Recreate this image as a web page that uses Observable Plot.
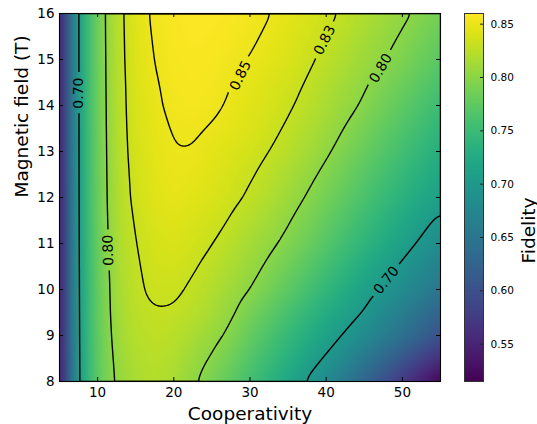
<!DOCTYPE html>
<html>
<head>
<meta charset="utf-8">
<script src="https://cdn.jsdelivr.net/npm/d3@7"></script>
<script src="https://cdn.jsdelivr.net/npm/@observablehq/plot@0.6"></script>
<style>
  html, body { margin: 0; padding: 0; background: white; }
  #wrap { position: relative; width: 537px; height: 424px; }
  #dbg { position: absolute; left: 2px; top: 2px; font: 9px monospace; color: red; }
</style>
</head>
<body>
<div id="wrap"></div>
<script>
// Cooperativity sample columns and magnetic-field sample rows
const coop = [5, 6, 7.5, 9, 10, 11.5, 13, 15, 17.5, 20, 22.5, 25, 27.5, 30, 32.5, 35, 37.5, 40, 42.5, 45, 47.5, 50, 52.5, 55];
const field = [8, 9, 9.5, 10, 11, 12, 13, 13.5, 14, 15, 16];
// Fidelity, one row per field value
const fidelity = [
  [0.528, 0.610, 0.700, 0.751, 0.772, 0.795, 0.806, 0.816, 0.821, 0.816, 0.803, 0.790, 0.774, 0.756, 0.738, 0.720, 0.697, 0.679, 0.652, 0.626, 0.5985, 0.571, 0.544, 0.517],
  [0.529, 0.611, 0.701, 0.753, 0.775, 0.798, 0.812, 0.822, 0.826, 0.824, 0.816, 0.807, 0.795, 0.778, 0.762, 0.746, 0.730, 0.7135, 0.697, 0.680, 0.661, 0.642, 0.6215, 0.601],
  [0.5295, 0.6115, 0.7015, 0.754, 0.776, 0.7995, 0.8145, 0.8245, 0.829, 0.8285, 0.823, 0.815, 0.8035, 0.789, 0.7745, 0.7595, 0.744, 0.728, 0.7135, 0.698, 0.680, 0.6615, 0.6435, 0.6255],
  [0.5297, 0.612, 0.702, 0.755, 0.777, 0.800, 0.816, 0.827, 0.8335, 0.833, 0.8275, 0.820, 0.8105, 0.800, 0.787, 0.773, 0.7585, 0.743, 0.7275, 0.7115, 0.6965, 0.681, 0.6655, 0.650],
  [0.530, 0.6125, 0.703, 0.757, 0.779, 0.8025, 0.8195, 0.830, 0.838, 0.8405, 0.8365, 0.8305, 0.8225, 0.8135, 0.8045, 0.7945, 0.782, 0.7685, 0.7545, 0.740, 0.7255, 0.7105, 0.6955, 0.6805],
  [0.5305, 0.613, 0.7035, 0.7585, 0.7805, 0.805, 0.822, 0.8345, 0.8435, 0.8465, 0.8445, 0.8405, 0.8345, 0.8275, 0.819, 0.8095, 0.7985, 0.787, 0.7745, 0.7615, 0.7485, 0.7355, 0.722, 0.709],
  [0.531, 0.6135, 0.704, 0.759, 0.7815, 0.806, 0.8235, 0.8375, 0.846, 0.8495, 0.8494, 0.8455, 0.8415, 0.837, 0.830, 0.8225, 0.8135, 0.803, 0.7915, 0.7795, 0.7675, 0.7555, 0.743, 0.731],
  [0.5312, 0.6137, 0.7042, 0.7593, 0.782, 0.8065, 0.824, 0.839, 0.8465, 0.851, 0.852, 0.849, 0.8455, 0.8415, 0.835, 0.8275, 0.819, 0.810, 0.799, 0.788, 0.7765, 0.765, 0.753, 0.741],
  [0.5315, 0.614, 0.7045, 0.7595, 0.7822, 0.807, 0.8245, 0.840, 0.8475, 0.8535, 0.855, 0.853, 0.848, 0.844, 0.8385, 0.8325, 0.8245, 0.8155, 0.8065, 0.797, 0.7855, 0.774, 0.7625, 0.751],
  [0.532, 0.614, 0.7048, 0.760, 0.7826, 0.808, 0.8255, 0.8425, 0.8505, 0.8555, 0.857, 0.856, 0.8525, 0.8495, 0.8455, 0.8405, 0.8335, 0.8255, 0.8175, 0.809, 0.801, 0.7925, 0.782, 0.771],
  [0.532, 0.614, 0.705, 0.760, 0.783, 0.809, 0.8265, 0.844, 0.8525, 0.857, 0.859, 0.8585, 0.857, 0.8545, 0.8505, 0.846, 0.841, 0.8345, 0.827, 0.819, 0.8115, 0.804, 0.796, 0.7875]
];
const levels = [0.70, 0.80, 0.83, 0.85];
const xTicks = [10, 20, 30, 40, 50];
const yTicks = [8, 9, 10, 11, 12, 13, 14, 15, 16];
const cbTicks = [0.55, 0.60, 0.65, 0.70, 0.75, 0.80, 0.85];
const colorDomain = [0.515, 0.86];
// contour label annotations
const labelText = ["0.70", "0.80", "0.85", "0.83", "0.80", "0.70"];
const labelCoop = [7.45, 11.4, 28.75, 39.8, 47.15, 47.9];
const labelField = [14.27, 10.85, 14.65, 15.42, 14.81, 10.2];
const labelAngle = [-90, -91.5, -64, -63.5, -59.5, -51];

const grid = field.flatMap((b, i) => coop.map((c, j) => ({c, b, f: fidelity[i][j]})));
const labels = labelText.map((t, i) => ({t, c: labelCoop[i], b: labelField[i], r: labelAngle[i]}));

const W = 537, H = 424;
const mL = 59, mR = 97, mT = 13, mB = 43;
const FW = W - mL - mR, FH = H - mT - mB;
const font = "DejaVu Sans";
const xDomain = [5, 55], yDomain = [8, 16];

const main = Plot.plot({
  width: W, height: H,
  marginLeft: mL, marginRight: mR, marginTop: mT, marginBottom: mB,
  style: {fontFamily: font, fontSize: "13.5px", background: "white", color: "black"},
  x: {domain: xDomain},
  y: {domain: yDomain},
  color: {type: "linear", scheme: "viridis", domain: colorDomain},
  marks: [
    Plot.raster(grid, {x: "c", y: "b", fill: "f", interpolate: "barycentric", blur: 4}),
    Plot.contour(grid, {x: "c", y: "b", value: "f", interpolate: "barycentric", thresholds: levels,
      pixelSize: 1, blur: 5, stroke: "black", fill: "none", strokeWidth: 1.4, clip: true}),
    Plot.text(labels, {x: "c", y: "b", text: "t", rotate: "r", fontSize: 14, fill: "black"}),
    Plot.frame({stroke: "black", strokeWidth: 1.1}),
    Plot.tickX(xTicks, {x: d => d, insetTop: FH - 4, stroke: "black"}),
    Plot.tickX(xTicks, {x: d => d, insetBottom: FH - 4, stroke: "black"}),
    Plot.tickY(yTicks, {y: d => d, insetRight: FW - 4, stroke: "black"}),
    Plot.tickY(yTicks, {y: d => d, insetLeft: FW - 4, stroke: "black"}),
    Plot.axisX({ticks: xTicks, tickSize: 0, tickPadding: 6, label: null, fontSize: 13.5}),
    Plot.axisY({ticks: yTicks, tickSize: 0, tickPadding: 5, label: null, fontSize: 13.5}),
    Plot.text(["Cooperativity"], {text: d => d, frameAnchor: "bottom", lineAnchor: "bottom", dy: 38, fontSize: 18.5}),
    Plot.text(["Magnetic field (T)"], {text: d => d, frameAnchor: "left", lineAnchor: "bottom", rotate: -90, dx: 27.5 - mL, fontSize: 18.5})
  ]
});

const cL = 464, cR = 54;
const CW = W - cL - cR;
const cbar = Plot.plot({
  width: W, height: H,
  marginLeft: cL, marginRight: cR, marginTop: mT, marginBottom: mB,
  style: {fontFamily: font, fontSize: "10.5px", background: "transparent", position: "absolute", left: "0px", top: "0px", color: "black"},
  x: {domain: [0, 1], axis: null},
  y: {domain: colorDomain},
  color: {type: "linear", scheme: "viridis", domain: colorDomain},
  marks: [
    Plot.raster({x1: 0, x2: 1, y1: colorDomain[0], y2: colorDomain[1], fill: (x, y) => y, width: 1, height: 345}),
    Plot.frame({stroke: "#333", strokeWidth: 1}),
    Plot.tickY(cbTicks, {y: d => d, insetLeft: CW - 3, stroke: "#222"}),
    Plot.axisY({anchor: "right", ticks: cbTicks, tickFormat: d3.format(".2f"), tickSize: 0, tickPadding: 7, label: null, fontSize: 10.5}),
    Plot.text(["Fidelity"], {text: d => d, frameAnchor: "right", lineAnchor: "bottom", rotate: -90, dx: 51, fontSize: 18.5})
  ]
});

const wrap = document.getElementById("wrap");
wrap.append(main, cbar);

// open gaps in the contour lines behind their labels (even-odd clip: frame minus label boxes)
try {
  const ns = "http://www.w3.org/2000/svg";
  const svg = (main.tagName && main.tagName.toLowerCase() === "svg") ? main : main.querySelector("svg");
  const groups = Array.from(svg.querySelectorAll("g"));
  const contourG = groups.find(g => g.getAttribute("aria-label") === "contour");
  if (!contourG) throw new Error("no contour group");
  const labelG = groups.find(g => g.getAttribute("aria-label") === "text" &&
    g.querySelectorAll("text").length === labels.length &&
    g.querySelector("text").textContent === labelText[0]);
  const texts = labelG ? Array.from(labelG.querySelectorAll("text")) : [];
  const sx = d3.scaleLinear(xDomain, [mL, mL + FW]);
  const sy = d3.scaleLinear(yDomain, [mT + FH, mT]);
  let d = `M${mL - 3},${mT - 3}H${mL + FW + 3}V${mT + FH + 3}H${mL - 3}Z`;
  labels.forEach((l, i) => {
    const cx = sx(l.c), cy = sy(l.b);
    let len = 31;
    try { if (texts[i]) len = texts[i].getComputedTextLength() || len; } catch (e) {}
    const hw = len / 2 + 5, hh = 7;
    const a = l.r * Math.PI / 180, ca = Math.cos(a), sa = Math.sin(a);
    const pts = [[-hw, -hh], [hw, -hh], [hw, hh], [-hw, hh]]
      .map(([u, v]) => [cx + u * ca - v * sa, cy + u * sa + v * ca]);
    d += "M" + pts.map(p => p[0].toFixed(2) + "," + p[1].toFixed(2)).join("L") + "Z";
  });
  const defs = document.createElementNS(ns, "defs");
  const cp = document.createElementNS(ns, "clipPath");
  cp.setAttribute("id", "clabel-gaps");
  cp.setAttribute("clipPathUnits", "userSpaceOnUse");
  const path = document.createElementNS(ns, "path");
  path.setAttribute("d", d);
  path.setAttribute("clip-rule", "evenodd");
  cp.appendChild(path);
  defs.appendChild(cp);
  svg.insertBefore(defs, svg.firstChild);
  const wrapper = document.createElementNS(ns, "g");
  contourG.parentNode.insertBefore(wrapper, contourG);
  wrapper.appendChild(contourG);
  wrapper.setAttribute("clip-path", "url(#clabel-gaps)");
} catch (e) {
  const dbg = document.createElement("div");
  dbg.id = "dbg";
  dbg.textContent = String(e && e.message || e);
  wrap.appendChild(dbg);
}
</script>
</body>
</html>
